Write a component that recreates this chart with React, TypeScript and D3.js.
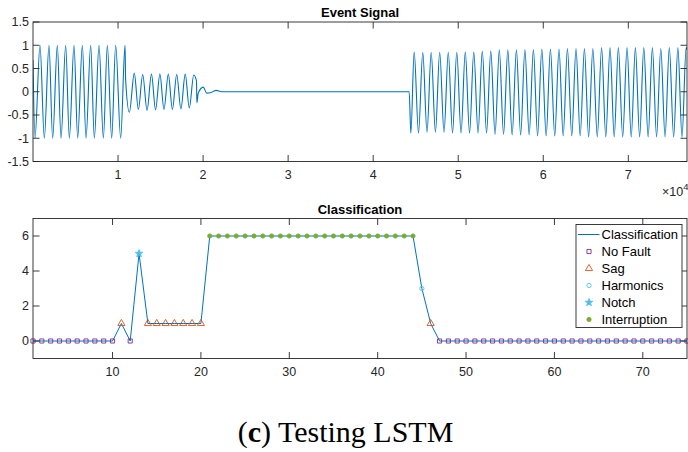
import React from 'react';
import * as d3 from 'd3';

const W = 688;
const H = 452;

// ---- Event Signal: extrema (sample index, amplitude) ----
const normalX = [0, 235, 823, 1333, 1880, 2313, 2860, 3293, 3842, 4274, 4822, 5254, 5802, 6234, 6782, 7214, 7762, 8273, 8742, 9252, 9722, 10311, 10820, 10890];
const normalY = [0.68, -1, 1, -1, 1, -1, 1, -1, 1, -1, 1, -1, 1, -1, 1, -1, 1, -1, 1, -1, 1, -1, 1, 0.27];

const sagX = [11330, 11910, 12390, 12900, 13410, 13930, 14410, 14920, 15400, 15910, 16390, 16900, 17390, 17900, 18380, 18900];
const sagY = [-0.44, 0.4, -0.38, 0.37, -0.4, 0.38, -0.39, 0.38, -0.38, 0.38, -0.38, 0.37, -0.37, 0.38, -0.35, 0.36];

const transX = [19220, 19270, 19430, 20020, 20430, 21020, 21520, 22190, 44230];
const transY = [0.24, -0.24, -0.03, 0.1, -0.03, -0.01, 0.03, 0, 0];

const recTroughX = [44430, 45330, 46330, 47320, 48330, 49330, 50330, 51330, 52330, 53330, 54330, 55330, 56340, 57340, 58340, 59330, 60340, 61350, 62340, 63350, 64340, 65330, 66350, 67350, 68340, 69340, 70340, 71330, 72330, 73320, 74320, 75330, 76310];
const recTroughY = [-0.89, -0.89, -0.87, -0.87, -0.87, -0.89, -0.89, -0.89, -0.89, -0.89, -0.92, -0.92, -0.93, -0.93, -0.93, -0.95, -0.95, -0.95, -0.95, -0.95, -0.95, -0.97, -0.97, -0.97, -0.97, -0.97, -0.97, -0.97, -0.97, -0.97, -0.97, -0.97, -0.97];
const recPeakX = [44820, 45830, 46820, 47820, 48830, 49830, 50830, 51830, 52830, 53830, 54830, 55830, 56840, 57840, 58840, 59830, 60840, 61850, 62840, 63850, 64840, 65830, 66860, 67850, 68830, 69850, 70830, 71820, 72830, 73820, 74820, 75830, 76800];
const recPeakY = [0.86, 0.85, 0.85, 0.85, 0.85, 0.85, 0.86, 0.86, 0.875, 0.88, 0.9, 0.9, 0.9, 0.91, 0.91, 0.92, 0.92, 0.92, 0.93, 0.93, 0.93, 0.93, 0.95, 0.95, 0.95, 0.95, 0.95, 0.95, 0.95, 0.93, 0.95, 0.95, 0.95];
const endX = [76900];
const endY = [0.9];

const topXTicks = [1, 2, 3, 4, 5, 6, 7]; // x 10^4
const topYTicks = [-1.5, -1, -0.5, 0, 0.5, 1, 1.5];

// ---- Classification ----
const classValues = [
  0, 0, 0, 0, 0, 0, 0, 0, 0, 0,
  1, 0, 5, 1, 1, 1, 1, 1, 1, 1,
  6, 6, 6, 6, 6, 6, 6, 6, 6, 6, 6, 6, 6, 6, 6, 6, 6, 6, 6, 6, 6, 6, 6, 6,
  3, 1,
  0, 0, 0, 0, 0, 0, 0, 0, 0, 0, 0, 0, 0, 0, 0, 0, 0, 0, 0, 0, 0, 0, 0, 0, 0, 0, 0, 0, 0,
];
const classCodes = [0, 1, 3, 5, 6];
const classNames = ['No Fault', 'Sag', 'Harmonics', 'Notch', 'Interruption'];
const botXTicks = [10, 20, 30, 40, 50, 60, 70];
const botYTicks = [0, 2, 4, 6];

const AX = '#262626';
const FONT = "'Liberation Sans', Arial, Helvetica, sans-serif";
const BLUE = '#0072BD';

const markerStyle: Record<number, { type: any; size: number; fill: string; stroke: string }> = {
  0: { type: d3.symbolSquare, size: 17, fill: 'none', stroke: '#7E2F8E' },
  1: { type: d3.symbolTriangle, size: 22, fill: 'none', stroke: '#D95319' },
  3: { type: d3.symbolCircle, size: 14, fill: 'none', stroke: '#4DBEEE' },
  5: { type: d3.symbolStar, size: 18, fill: '#4DBEEE', stroke: '#4DBEEE' },
  6: { type: d3.symbolCircle, size: 14, fill: '#77AC30', stroke: '#77AC30' },
};

function Marker({ code, x, y }: { code: number; x: number; y: number }) {
  const m = markerStyle[code];
  const d = d3.symbol().type(m.type).size(m.size)() as string;
  return <path d={d} transform={`translate(${x},${y})`} fill={m.fill} stroke={m.stroke} strokeWidth={0.9} />;
}

function Frame({ x0, x1, y0, y1, xt, yt, tl }: { x0: number; x1: number; y0: number; y1: number; xt: number[]; yt: number[]; tl: number }) {
  return (
    <g stroke={AX} strokeWidth={0.9} fill="none">
      <rect x={x0} y={y0} width={x1 - x0} height={y1 - y0} />
      {xt.map((x, i) => (
        <g key={'x' + i}>
          <line x1={x} x2={x} y1={y1} y2={y1 - tl} />
          <line x1={x} x2={x} y1={y0} y2={y0 + tl} />
        </g>
      ))}
      {yt.map((y, i) => (
        <g key={'y' + i}>
          <line x1={x0} x2={x0 + tl} y1={y} y2={y} />
          <line x1={x1} x2={x1 - tl} y1={y} y2={y} />
        </g>
      ))}
    </g>
  );
}

export default function App() {
  // top chart
  const L = 33, R = 687;
  const tTop = 22, tBot = 161.5;
  const xs = d3.scaleLinear().domain([0, 76900]).range([L, R]);
  const ys = d3.scaleLinear().domain([-1.5, 1.5]).range([tBot, tTop]);

  const pts: [number, number][] = [];
  normalX.forEach((x, i) => pts.push([x, normalY[i]]));
  sagX.forEach((x, i) => pts.push([x, sagY[i]]));
  transX.forEach((x, i) => pts.push([x, transY[i]]));
  recTroughX.forEach((x, i) => {
    pts.push([x, recTroughY[i]]);
    pts.push([recPeakX[i], recPeakY[i]]);
  });
  endX.forEach((x, i) => pts.push([x, endY[i]]));

  const sigLine = d3
    .line<[number, number]>()
    .x((d) => xs(d[0]))
    .y((d) => ys(d[1]))
    .curve(d3.curveMonotoneX);

  // bottom chart
  const bTop = 218.5, bBot = 358.5;
  const xb = d3.scaleLinear().domain([1, 75]).range([L, R]);
  const yb = d3.scaleLinear().domain([-1, 7]).range([bBot, bTop]);
  const classLine = d3
    .line<number>()
    .x((_, i) => xb(i + 1))
    .y((d) => yb(d));

  const lgX0 = 576, lgY0 = 224.5, lgW = 106, lgH = 103;
  const lgRow = 17;
  const lgItems = ['Classification', ...classNames];

  return (
    <svg width={W} height={H} style={{ position: 'absolute', left: 0, top: 0, background: '#fff' }}>
      <rect width={W} height={H} fill="#fff" />
      <defs>
        <clipPath id="clipTop">
          <rect x={L} y={tTop} width={R - L} height={tBot - tTop} />
        </clipPath>
        <clipPath id="clipBot">
          <rect x={L - 4} y={bTop} width={R - L + 8} height={bBot - bTop} />
        </clipPath>
      </defs>

      {/* ---------- Event Signal ---------- */}
      <text x={(L + R) / 2} y={17} textAnchor="middle" fontFamily={FONT} fontWeight="bold" fontSize={13} fill="#000">
        Event Signal
      </text>
      <g clipPath="url(#clipTop)">
        <path d={sigLine(pts) as string} fill="none" stroke={BLUE} strokeWidth={1.1} />
      </g>
      <Frame x0={L} x1={R} y0={tTop} y1={tBot} xt={topXTicks.map((t) => xs(t * 1e4))} yt={topYTicks.map((t) => ys(t))} tl={6.5} />
      <g fontFamily={FONT} fontSize={12.5} fill={AX}>
        {topXTicks.map((t) => (
          <text key={t} x={xs(t * 1e4)} y={tBot + 17} textAnchor="middle">
            {t}
          </text>
        ))}
        {topYTicks.map((t) => (
          <text key={t} x={L - 4} y={ys(t) + 4.3} textAnchor="end">
            {String(t)}
          </text>
        ))}
        <text x={662} y={195.5}>
          ×10
          <tspan fontSize={9.5} dy={-6}>
            4
          </tspan>
        </text>
      </g>

      {/* ---------- Classification ---------- */}
      <text x={(L + R) / 2} y={214} textAnchor="middle" fontFamily={FONT} fontWeight="bold" fontSize={13} fill="#000">
        Classification
      </text>
      <g clipPath="url(#clipBot)">
        <path d={classLine(classValues) as string} fill="none" stroke={BLUE} strokeWidth={1} />
        {classValues.map((v, i) => (
          <Marker key={i} code={v} x={xb(i + 1)} y={yb(v)} />
        ))}
      </g>
      <Frame x0={L} x1={R} y0={bTop} y1={bBot} xt={botXTicks.map((t) => xb(t))} yt={botYTicks.map((t) => yb(t))} tl={6.5} />
      <g fontFamily={FONT} fontSize={12.5} fill={AX}>
        {botXTicks.map((t) => (
          <text key={t} x={xb(t)} y={bBot + 17} textAnchor="middle">
            {t}
          </text>
        ))}
        {botYTicks.map((t) => (
          <text key={t} x={L - 4} y={yb(t) + 4.3} textAnchor="end">
            {t}
          </text>
        ))}
      </g>

      {/* legend */}
      <g>
        <rect x={lgX0} y={lgY0} width={lgW} height={lgH} fill="#fff" stroke={AX} strokeWidth={0.9} />
        {lgItems.map((name, i) => {
          const cy = lgY0 + 10 + i * lgRow;
          return (
            <g key={name}>
              {i === 0 ? (
                <line x1={578} x2={599.5} y1={cy} y2={cy} stroke={BLUE} strokeWidth={1} />
              ) : (
                <Marker code={classCodes[i - 1]} x={589} y={cy} />
              )}
              <text x={601.5} y={cy + 4.6} fontFamily={FONT} fontSize={13} fill="#000">
                {name}
              </text>
            </g>
          );
        })}
      </g>

      {/* caption */}
      <text x={345.5} y={442} textAnchor="middle" fontFamily="'Liberation Serif', 'DejaVu Serif', serif" fontSize={30} fill="#000">
        (<tspan fontWeight="bold">c</tspan>) Testing LSTM
      </text>
    </svg>
  );
}
